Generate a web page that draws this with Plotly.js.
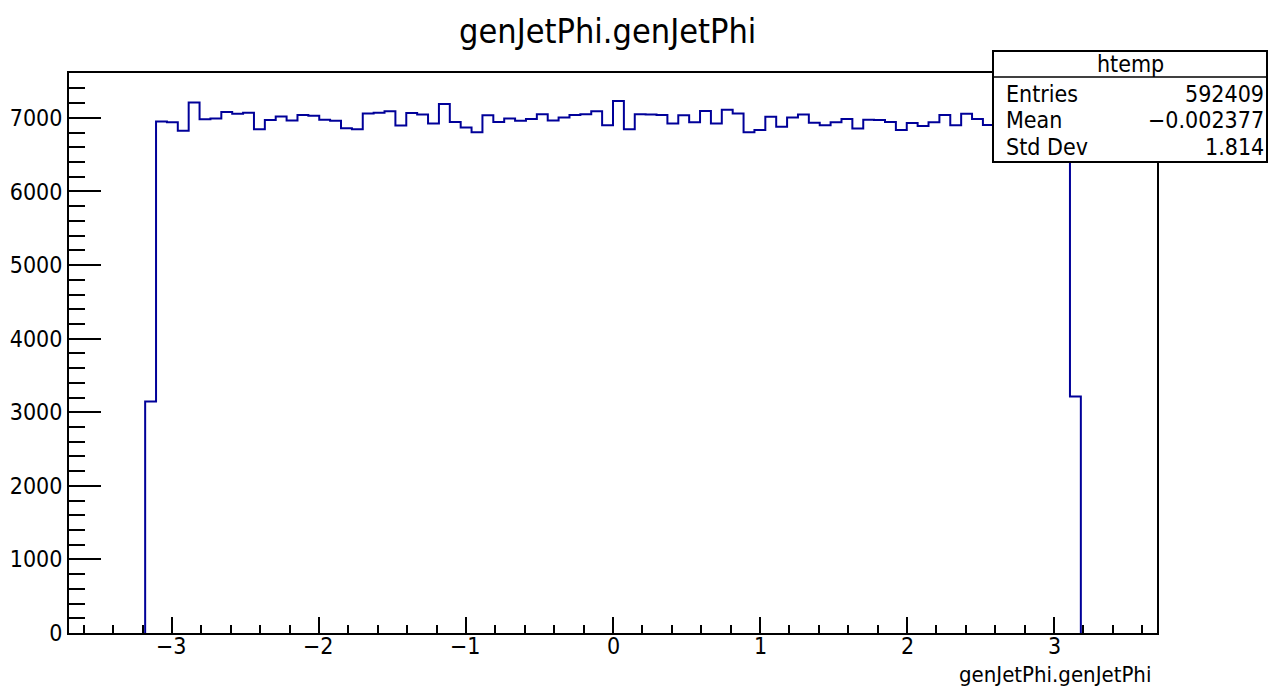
<!DOCTYPE html>
<html>
<head>
<meta charset="utf-8">
<script src="https://cdn.plot.ly/plotly-3.0.1.min.js"></script>
<style>html,body{margin:0;padding:0;background:#fff;}#chart{width:1277px;height:687px;}</style>
</head>
<body>
<div id="chart"></div>
<script>
// Histogram definition
const xMin = -3.7;
const xMax = 3.7;
const nBins = 100;
// Bin contents (100 bins); bins 85-91 are hidden by the stats box (estimated)
const counts = [
  0, 0, 0, 0, 0, 0, 0, 3145,
  6950, 6940, 6825, 7210, 6980, 6990, 7080, 7055, 7070, 6845,
  6970, 7020, 6965, 7040, 7030, 6975, 6960, 6860, 6845, 7060,
  7070, 7090, 6895, 7065, 7045, 6925, 7190, 6945, 6870, 6805,
  7035, 6945, 6990, 6960, 6985, 7050, 6965, 7005, 7040, 7050,
  7090, 6900, 7230, 6845, 7050, 7045, 7040, 6925, 7035, 6940,
  7095, 6925, 7110, 7060, 6805, 6835, 7015, 6880, 7005, 7045,
  6935, 6900, 6940, 6985, 6855, 6975, 6970, 6945, 6835, 6930,
  6890, 6940, 7040, 6900, 7055, 6985, 6905,
  6990, 6950, 7020, 6930, 6980, 7000, 6960,
  3215, 0, 0, 0, 0, 0, 0, 0
];
const xTickVals = [-3, -2, -1, 0, 1, 2, 3];
const xTickText = ['\u22123', '\u22122', '\u22121', '0', '1', '2', '3'];
const yTickVals = [0, 1000, 2000, 3000, 4000, 5000, 6000, 7000];
const yTickText = ['0', '1000', '2000', '3000', '4000', '5000', '6000', '7000'];
const statLabels = ['Entries', 'Mean', 'Std Dev'];
const statValues = ['592409', '\u22120.002377', '1.814'];
const histName = 'htemp';
const titleText = 'genJetPhi.genJetPhi';
const xTitleText = 'genJetPhi.genJetPhi';

// Build step outline over the filled bin range (ROOT hides zero bins under the axis)
const bw = (xMax - xMin) / nBins;
let first = counts.findIndex(v => v > 0);
let last = counts.length - 1;
while (last > 0 && counts[last] === 0) last--;
const xs = [xMin + first * bw], ys = [0];
for (let i = first; i <= last; i++) {
  xs.push(xMin + i * bw);
  ys.push(counts[i]);
}
xs.push(xMin + (last + 1) * bw);
ys.push(0);

const W = 1277, H = 687;
const M = {l: 69, r: 120, t: 73, b: 54};
const pw = W - M.l - M.r, ph = H - M.t - M.b;
const px = x => (x - M.l) / pw;
const py = y => (H - M.b - y) / ph;

const font = '"DejaVu Sans Condensed", "Liberation Sans", sans-serif';

const trace = {
  x: xs, y: ys, type: 'scatter', mode: 'lines',
  line: {shape: 'hv', color: '#000099', width: 2},
  hoverinfo: 'skip'
};

const annotations = [
  {text: titleText, xref: 'paper', yref: 'paper', x: px(607), y: py(31), xanchor: 'center', yanchor: 'middle',
   showarrow: false, font: {family: font, size: 34, color: '#000'}},
  {text: xTitleText, xref: 'paper', yref: 'paper', x: px(1153), y: py(674), xanchor: 'right', yanchor: 'middle',
   showarrow: false, font: {family: font, size: 22, color: '#000'}},
  {text: histName, xref: 'paper', yref: 'paper', x: px(1130), y: py(64), xanchor: 'center', yanchor: 'middle',
   showarrow: false, font: {family: font, size: 23, color: '#000'}}
];
// x tick labels placed through the x axis scale
xTickVals.forEach((v, i) => {
  annotations.push({text: xTickText[i], xref: 'x', yref: 'paper', x: v, y: py(646), xanchor: 'center', yanchor: 'middle',
    showarrow: false, font: {family: font, size: 23, color: '#000'}});
});
const rowY = [94, 120, 147];
statLabels.forEach((t, i) => {
  annotations.push({text: t, xref: 'paper', yref: 'paper', x: px(1004), y: py(rowY[i]), xanchor: 'left', yanchor: 'middle',
    showarrow: false, font: {family: font, size: 23, color: '#000'}});
  annotations.push({text: statValues[i], xref: 'paper', yref: 'paper', x: px(1266), y: py(rowY[i]), xanchor: 'right', yanchor: 'middle',
    showarrow: false, font: {family: font, size: 23, color: '#000'}});
});

const shapes = [
  {type: 'rect', xref: 'paper', yref: 'paper', x0: px(993), x1: px(1267), y0: py(162), y1: py(51),
   fillcolor: '#fff', line: {color: '#000', width: 2}, layer: 'above'},
  {type: 'line', xref: 'paper', yref: 'paper', x0: px(993), x1: px(1267), y0: py(77), y1: py(77),
   line: {color: '#000', width: 1.5}, layer: 'above'}
];

const layout = {
  width: W, height: H,
  margin: M,
  paper_bgcolor: '#fff', plot_bgcolor: '#fff',
  showlegend: false,
  font: {family: font, size: 23, color: '#000'},
  xaxis: {
    range: [xMin, xMax], showgrid: false, zeroline: false,
    showline: true, linecolor: '#000', linewidth: 2, mirror: true,
    tickmode: 'array', tickvals: xTickVals, showticklabels: false,
    ticks: 'inside', ticklen: 16, tickwidth: 2, tickcolor: '#000',
    minor: {ticks: 'inside', ticklen: 8, tickwidth: 2, tickcolor: '#000', dtick: 0.2, tick0: 0, showgrid: false}
  },
  yaxis: {
    range: [0, 7610], showgrid: false, zeroline: false,
    showline: true, linecolor: '#000', linewidth: 2, mirror: true,
    tickmode: 'array', tickvals: yTickVals, ticktext: yTickText,
    ticks: 'inside', ticklen: 32, tickwidth: 2, tickcolor: '#000',
    minor: {ticks: 'inside', ticklen: 16, tickwidth: 2, tickcolor: '#000', dtick: 200, tick0: 0, showgrid: false},
    tickfont: {family: font, size: 23, color: '#000'}
  },
  annotations: annotations,
  shapes: shapes
};

Plotly.newPlot('chart', [trace], layout, {displayModeBar: false, staticPlot: true});
</script>
</body>
</html>
